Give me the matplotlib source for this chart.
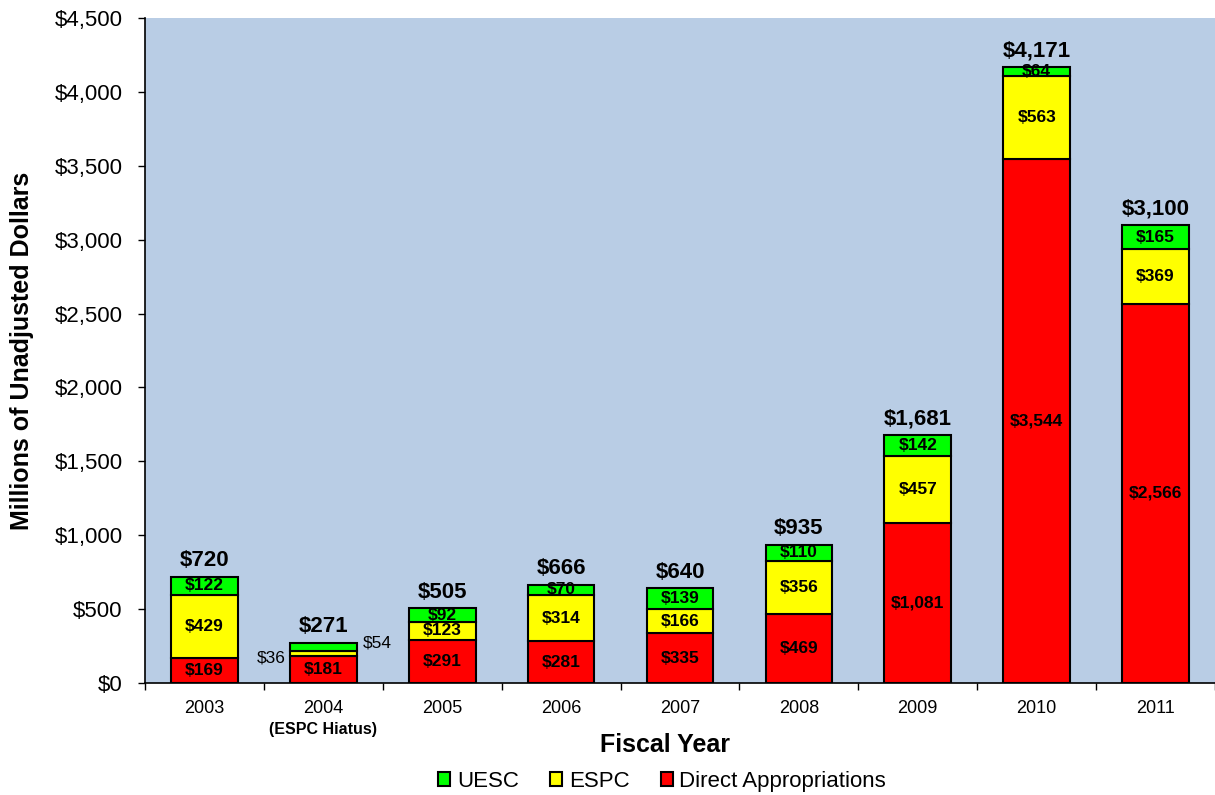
import matplotlib.pyplot as plt
import matplotlib.transforms as mtransforms
import numpy as np

# Values (millions of dollars)
years = ['2003', '2004', '2005', '2006', '2007', '2008', '2009', '2010', '2011']
direct = [169, 181, 291, 281, 335, 469, 1081, 3544, 2566]
espc = [429, 36, 123, 314, 166, 356, 457, 563, 369]
uesc = [122, 54, 92, 70, 139, 110, 142, 64, 165]
totals = [720, 271, 505, 666, 640, 935, 1681, 4171, 3100]
yticks = [0, 500, 1000, 1500, 2000, 2500, 3000, 3500, 4000, 4500]

plt.rcParams['font.family'] = ['Liberation Sans', 'DejaVu Sans']

fig = plt.figure(figsize=(12.15, 7.95), dpi=100)
ax = fig.add_axes([145 / 1215, 1 - 683 / 795, 1070 / 1215, 665 / 795])
ax.set_facecolor('#B9CDE5')

x = np.arange(len(years))
w = 0.56
direct = np.array(direct)
espc = np.array(espc)
uesc = np.array(uesc)

b1 = ax.bar(x, direct, w, color='#FF0000', edgecolor='black', linewidth=1.5,
            label='Direct Appropriations', zorder=3)
b2 = ax.bar(x, espc, w, bottom=direct, color='#FFFF00', edgecolor='black',
            linewidth=1.5, label='ESPC', zorder=3)
b3 = ax.bar(x, uesc, w, bottom=direct + espc, color='#00FF00', edgecolor='black',
            linewidth=1.5, label='UESC', zorder=3)

def money(v):
    return '${:,.0f}'.format(v)

# segment labels
for i in range(len(years)):
    if years[i] == '2004':
        # small segments: labels sit beside the bar
        ax.text(i - w / 2 - 0.04, 170, money(espc[i]), ha='right', va='center',
                fontsize=12.5, zorder=4)
        ax.text(i + w / 2 + 0.05, 270, money(uesc[i]), ha='left', va='center',
                fontsize=12.5, zorder=4)
        ax.text(i, direct[i] / 2, money(direct[i]), ha='center', va='center',
                fontsize=12.5, fontweight='bold', zorder=4)
    else:
        ax.text(i, direct[i] / 2, money(direct[i]), ha='center', va='center',
                fontsize=12.5, fontweight='bold', zorder=4)
        ax.text(i, direct[i] + espc[i] / 2, money(espc[i]), ha='center', va='center',
                fontsize=12.5, fontweight='bold', zorder=4)
        ax.text(i, direct[i] + espc[i] + uesc[i] / 2, money(uesc[i]), ha='center',
                va='center', fontsize=12.5, fontweight='bold', zorder=4)
    top = direct[i] + espc[i] + uesc[i]
    ax.annotate(money(totals[i]), (i, top), xytext=(0, 4), textcoords='offset points',
                ha='center', va='bottom', fontsize=16, fontweight='bold', zorder=4)

ax.set_xlim(-0.5, len(years) - 0.5)
ax.set_ylim(0, 4500)
ax.set_yticks(yticks)
ax.set_yticklabels([money(v) for v in yticks], fontsize=16)
ax.tick_params(axis='y', length=5, width=1, pad=11, direction='out')

# x ticks at category boundaries, labels at centres
ax.set_xticks(np.arange(-0.5, len(years), 1.0))
ax.set_xticklabels([])
ax.tick_params(axis='x', which='major', length=5, width=1, direction='out')
ax.set_xticks(x, minor=True)
ax.set_xticklabels(years, minor=True, fontsize=13)
ax.tick_params(axis='x', which='minor', length=0, pad=12)

trans = mtransforms.blended_transform_factory(ax.transData, ax.transAxes)
ax.text(1, -0.07, '(ESPC Hiatus)', transform=trans, ha='center', va='center',
        fontsize=11.5, fontweight='bold')

for s in ['top', 'right']:
    ax.spines[s].set_visible(False)
for s in ['left', 'bottom']:
    ax.spines[s].set_linewidth(1.2)

ax.set_xlabel('Fiscal Year', fontsize=18, fontweight='bold')
ax.xaxis.set_label_coords(0.486, -0.075)
ax.set_ylabel('Millions of Unadjusted Dollars', fontsize=18, fontweight='bold')
ax.yaxis.set_label_coords(-0.104, 0.5)

fig.legend(handles=[b3, b2, b1], labels=['UESC', 'ESPC', 'Direct Appropriations'],
           loc='center', bbox_to_anchor=(0.545, 0.017), ncol=3, frameon=False,
           fontsize=16, handlelength=0.55, handleheight=0.55, handletextpad=0.3,
           columnspacing=1.4, borderpad=0)

fig.savefig('out.png', dpi=100)
